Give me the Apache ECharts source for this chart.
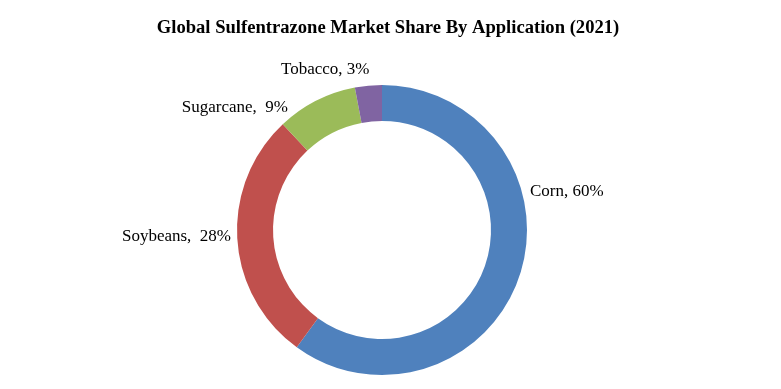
<!DOCTYPE html>
<html>
<head>
<meta charset="utf-8">
<script src="https://cdn.jsdelivr.net/npm/echarts@6/dist/echarts.min.js"></script>
<style>html,body{margin:0;padding:0;background:#fff}#c{width:781px;height:389px}</style>
</head>
<body>
<div id="c"></div>
<script>
const categories = ['Corn', 'Soybeans', 'Sugarcane', 'Tobacco'];
const shares = [60, 28, 9, 3];
const labelSeparators = [', ', ',  ', ',  ', ', '];
const colors = ['#4F81BD', '#C0504D', '#9BBB59', '#8064A2'];

const labelSpots = [
  { x: 530, y: 192, align: 'left' },
  { x: 231, y: 237, align: 'right' },
  { x: 288, y: 108, align: 'right' },
  { x: 281, y: 70, align: 'left' }
];

const chart = echarts.init(document.getElementById('c'), null, { renderer: 'canvas' });
chart.setOption({
  animation: false,
  backgroundColor: '#fff',
  title: {
    text: 'Global Sulfentrazone Market Share By Application (2021)',
    left: 383, top: 14, textAlign: 'center',
    textStyle: { fontFamily: 'Liberation Serif', fontWeight: 'bold', fontSize: 18.6, color: '#000' }
  },
  series: [{
    type: 'pie',
    center: [382, 230],
    radius: [109, 145],
    startAngle: 90,
    clockwise: true,
    avoidLabelOverlap: false,
    data: categories.map((n, i) => ({ name: n, value: shares[i], itemStyle: { color: colors[i] } })),
    itemStyle: { borderWidth: 0 },
    label: {
      show: true, position: 'outside',
      formatter: p => p.name + labelSeparators[p.dataIndex] + p.value + '%',
      fontFamily: 'Liberation Serif', fontSize: 17, color: '#000'
    },
    labelLine: { show: false },
    labelLayout: p => ({ x: labelSpots[p.dataIndex].x, y: labelSpots[p.dataIndex].y, align: labelSpots[p.dataIndex].align, verticalAlign: 'middle' }),
    emphasis: { disabled: true }
  }]
});
</script>
</body>
</html>
